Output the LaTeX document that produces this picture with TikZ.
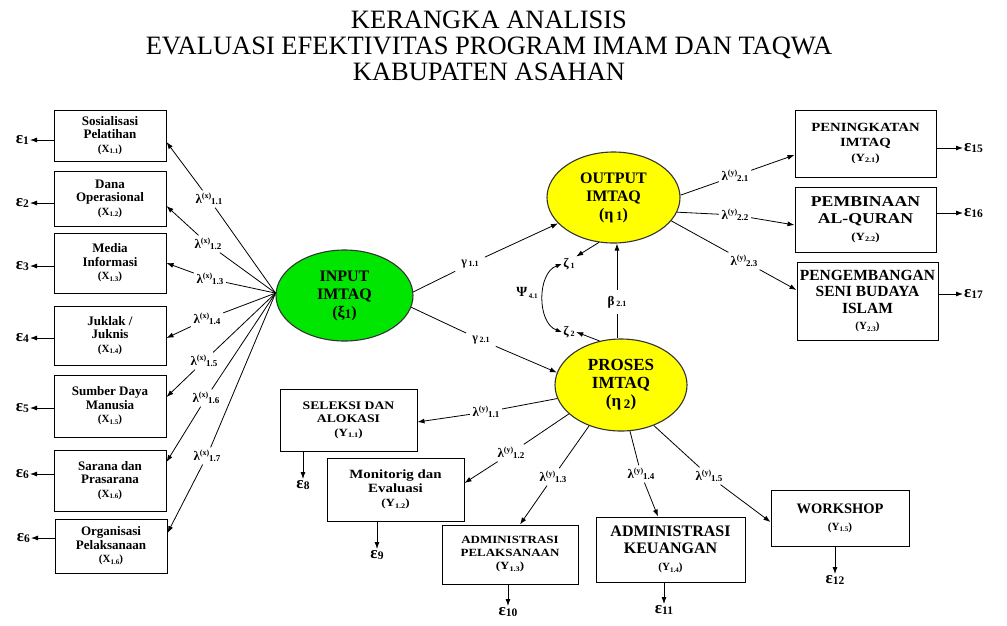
\documentclass[tikz,border=0pt]{standalone}
\usepackage{fontspec}
\setmainfont{Liberation Serif}
\newfontfamily\bxwide[FakeStretch=1.18]{Liberation Serif}
\usetikzlibrary{arrows.meta,shapes.geometric}
\definecolor{latgreen}{RGB}{0,230,0}
\definecolor{latyellow}{RGB}{255,255,0}
\newcommand\dn[1]{\raisebox{-0.3ex}{\fontsize{7}{8}\selectfont #1}}
\newcommand\dnl[1]{\raisebox{-0.35ex}{\fontsize{9}{9}\selectfont #1}}
\newcommand\upx[1]{\raisebox{1.0ex}{\fontsize{8}{8}\selectfont #1}}
\newcommand\xs[2]{{\fontsize{11}{12}\selectfont(#1\dn{#2})}}
\newcommand\lam[2]{{\fontsize{13}{13}\selectfont λ}\upx{(#1)}\dnl{#2}}
\newcommand\eps[1]{{\fontsize{17}{17}\selectfont ε}\raisebox{-0.3ex}{\fontsize{11.5}{11.5}\selectfont #1}}
\newcommand\gr[4]{{\fontsize{#1}{#1}\selectfont #2}\,\raisebox{-0.3ex}{\fontsize{#4}{#4}\selectfont #3}}
\begin{document}
\begin{tikzpicture}[x=1pt,y=-1pt,
 box/.style={draw, line width=1pt, inner sep=1pt, align=center},
 lbox/.style={box, minimum width=112pt, font=\bfseries\fontsize{13}{13.5}\selectfont},
 lat/.style={ellipse, draw=black!80, line width=1.1pt, align=center, inner sep=0pt, font=\bfseries\fontsize{16}{18}\selectfont},
 lbl/.style={inner sep=2.5pt, font=\bfseries},
 epsn/.style={inner sep=1pt, font=\bfseries},
 ln/.style={line width=0.8pt},
 arr/.style={ln, -{Latex[length=7pt,width=5pt]}}]

\useasboundingbox (0,0) rectangle (1007,625);

% title
\node[font=\fontsize{26.5}{26}\selectfont, align=center] (title) at (489,46)
  {KERANGKA ANALISIS\\EVALUASI EFEKTIVITAS PROGRAM IMAM DAN TAQWA\\KABUPATEN ASAHAN};

% latent variables
\node[lat, fill=latgreen, minimum width=137pt, minimum height=91pt] (IN) at (344.5,295.5)
  {INPUT\\IMTAQ\\(ξ\raisebox{-0.2ex}{\fontsize{13}{13}\selectfont 1})};
\node[lat, fill=latyellow, minimum width=133pt, minimum height=91pt] (OUT) at (613.5,197.5)
  {OUTPUT\\IMTAQ\\(η\,\raisebox{-0.2ex}{\fontsize{13}{13}\selectfont 1})};
\node[lat, fill=latyellow, minimum width=132pt, minimum height=92pt, font=\bfseries\fontsize{17}{18}\selectfont] (PRO) at (621,385)
  {PROSES\\IMTAQ\\(η\,\raisebox{-0.2ex}{\fontsize{13}{13}\selectfont 2})};

% left indicator boxes
\node[lbox, minimum height=51pt] (x1) at (110,135.5) {Sosialisasi\\Pelatihan\\\xs{X}{1.1}};
\node[lbox, minimum height=55pt] (x2) at (110,198.5) {Dana\\Operasional\\\xs{X}{1.2}};
\node[lbox, minimum height=60pt] (x3) at (110,263) {Media\\Informasi\\\xs{X}{1.3}};
\node[lbox, minimum height=59pt] (x4) at (110,335.5) {Juklak /\\Juknis\\\xs{X}{1.4}};
\node[lbox, minimum height=62pt] (x5) at (110,406) {Sumber Daya\\Manusia\\\xs{X}{1.5}};
\node[lbox, minimum height=61pt] (x6) at (110,480.5) {Sarana dan\\Prasarana\\\xs{X}{1.6}};
\node[lbox, minimum height=54pt] (x7) at (111,546) {Organisasi\\Pelaksanaan\\\xs{X}{1.6}};

% left errors
\node[epsn, anchor=east] (e1) at (30,140) {\eps{1}};
\node[epsn, anchor=east] (e2) at (30,203) {\eps{2}};
\node[epsn, anchor=east] (e3) at (30,266) {\eps{3}};
\node[epsn, anchor=east] (e4) at (30,338) {\eps{4}};
\node[epsn, anchor=east] (e5) at (30,408) {\eps{5}};
\node[epsn, anchor=east] (e6) at (30,474) {\eps{6}};
\node[epsn, anchor=east] (e7) at (31,538) {\eps{6}};
\foreach \b/\e in {x1/e1,x2/e2,x3/e3,x4/e4,x5/e5,x6/e6,x7/e7}
  \draw[arr] (\b.west |- \e) -- (\e.east);

% right indicator boxes
\node[box, minimum width=141pt, minimum height=67pt, font=\bxwide\bfseries\fontsize{12.5}{15}\selectfont] (r1) at (865.5,143.5)
  {PENINGKATAN\\IMTAQ\\\xs{Y}{2.1}};
\node[box, minimum width=141pt, minimum height=65pt, font=\bxwide\bfseries\fontsize{15}{17}\selectfont] (r2) at (865.5,219.5)
  {PEMBINAAN\\AL-QURAN\\\xs{Y}{2.2}};
\node[box, minimum width=141pt, minimum height=78pt, font=\bfseries\fontsize{15.5}{16.5}\selectfont] (r3) at (867.5,301)
  {PENGEMBANGAN\\SENI BUDAYA\\ISLAM\\\xs{Y}{2.3}};
\node[epsn, anchor=west] (e15) at (963,148) {\eps{15}};
\node[epsn, anchor=west] (e16) at (963,213) {\eps{16}};
\node[epsn, anchor=west] (e17) at (963,294) {\eps{17}};
\foreach \b/\e in {r1/e15,r2/e16,r3/e17}
  \draw[arr] (\b.east |- \e) -- (\e.west);

% bottom indicator boxes
\node[box, minimum width=137pt, minimum height=62pt, font=\bxwide\bfseries\fontsize{11.6}{13.5}\selectfont] (s1) at (348.5,420)
  {SELEKSI DAN\\ALOKASI\\\xs{Y}{1.1}};
\node[box, minimum width=137pt, minimum height=63pt, font=\bxwide\bfseries\fontsize{12.6}{14}\selectfont] (s2) at (395.5,489.5)
  {Monitorig dan\\Evaluasi\\\xs{Y}{1.2}};
\node[box, minimum width=136pt, minimum height=59pt, font=\bxwide\bfseries\fontsize{11}{13}\selectfont] (s3) at (510,554.5)
  {ADMINISTRASI\\PELAKSANAAN\\\xs{Y}{1.3}};
\node[box, minimum width=149pt, minimum height=65pt, font=\bfseries\fontsize{16}{17}\selectfont] (s4) at (670.5,549.5)
  {ADMINISTRASI\\KEUANGAN\\\xs{Y}{1.4}};
\node[box, minimum width=138pt, minimum height=56pt, font=\bfseries\fontsize{14.5}{17}\selectfont] (s5) at (840,518)
  {WORKSHOP\\\xs{Y}{1.5}};
\node[epsn, anchor=north] (e8) at (303,479) {\eps{8}};
\node[epsn, anchor=north] (e9) at (377,549) {\eps{9}};
\node[epsn, anchor=north] (e10) at (508,606) {\eps{10}};
\node[epsn, anchor=north] (e11) at (664,604) {\eps{11}};
\node[epsn, anchor=north] (e12) at (835,574) {\eps{12}};
\foreach \b/\e in {s1/e8,s2/e9,s3/e10,s4/e11,s5/e12}
  \draw[arr] (\b.south -| \e) -- (\e.north);

% X loadings
\coordinate (inw) at (IN.178);
\node[lbl] (l11) at (209,199) {\lam{x}{1.1}};
\node[lbl] (l12) at (208,244) {\lam{x}{1.2}};
\node[lbl] (l13) at (210,279) {\lam{x}{1.3}};
\node[lbl] (l14) at (207,319) {\lam{x}{1.4}};
\node[lbl] (l15) at (204,361) {\lam{x}{1.5}};
\node[lbl] (l16) at (206,398) {\lam{x}{1.6}};
\node[lbl] (l17) at (207,456) {\lam{x}{1.7}};
\draw[ln] (inw) -- (l11); \draw[arr] (l11) -- ([yshift=-6.5pt]x1.east);
\draw[ln] (inw) -- (l12); \draw[arr] (l12) -- ([yshift=-7.5pt]x2.east);
\draw[ln] (inw) -- (l13); \draw[arr] (l13) -- (x3.east);
\draw[ln] (inw) -- (l14); \draw[arr] (l14) -- ([yshift=-2.5pt]x4.east);
\draw[ln] (inw) -- (l15); \draw[arr] (l15) -- ([yshift=9pt]x5.east);
\draw[ln] (inw) -- (l16); \draw[arr] (l16) -- ([yshift=18.5pt]x6.east);
\draw[ln] (inw) -- (l17); \draw[arr] (l17) -- ([yshift=13pt]x7.east);

% Y2 loadings
\node[lbl] (l21) at (735,176) {\lam{y}{2.1}};
\node[lbl] (l22) at (735,215) {\lam{y}{2.2}};
\node[lbl] (l23) at (744,261) {\lam{y}{2.3}};
\draw[ln] (OUT.2) -- (l21); \draw[arr] (l21) -- ([yshift=-11.5pt]r1.west);
\draw[ln] (OUT.-13) -- (l22); \draw[arr] (l22) -- ([yshift=-5.5pt]r2.west);
\draw[ln] (OUT.-22) -- (l23); \draw[arr] (l23) -- ([yshift=11pt]r3.west);

% Y1 loadings
\node[lbl] (m11) at (486,412) {\lam{y}{1.1}};
\node[lbl] (m12) at (511,453) {\lam{y}{1.2}};
\node[lbl] (m13) at (553,477) {\lam{y}{1.3}};
\node[lbl] (m14) at (641,474) {\lam{y}{1.4}};
\node[lbl] (m15) at (709,476) {\lam{y}{1.5}};
\draw[ln] (PRO.192) -- (m11); \draw[arr] (m11) -- ([yshift=-2pt]s1.east);
\draw[ln] (PRO.209) -- (m12); \draw[arr] (m12) -- ([yshift=6.5pt]s2.east);
\draw[ln] (PRO.232) -- (m13); \draw[arr] (m13) -- ([xshift=10pt]s3.north);
\draw[ln] (PRO.281) -- (m14); \draw[arr] (m14) -- ([xshift=-12.5pt]s4.north);
\draw[ln] (PRO.309) -- (m15); \draw[arr] (m15) -- ([yshift=-4pt]s5.west);

% structural paths
\node[lbl, inner sep=6pt] (g11) at (470,264) {\gr{12}{γ}{1.1}{8}};
\node[lbl, inner sep=6pt] (g21) at (481,340) {\gr{12}{γ}{2.1}{8}};
\node[lbl, inner sep=6pt] (b21) at (617,302) {\gr{13}{β}{2.1}{8}};
\draw[ln] (IN.3) -- (g11); \draw[arr] (g11) -- (OUT.205);
\draw[ln] (IN.-10) -- (g21); \draw[arr] (g21) -- (PRO.169);
\draw[ln] (b21 |- PRO.north) -- (b21); \draw[arr] (b21) -- (b21 |- OUT.south);

% disturbances
\node[lbl, inner sep=1.5pt] (z1) at (569,264) {\gr{13}{ζ}{1}{8}};
\node[lbl, inner sep=1.5pt] (z2) at (569,332) {\gr{13}{ζ}{2}{8}};
\node[lbl] (psi) at (527,293) {\gr{14}{Ψ}{4.1}{7}};
\draw[arr] (OUT.252) -- (z1.north east);
\draw[arr] (PRO.116) -- (z2.east);
\draw[ln, {Latex[length=6pt,width=4.5pt]}-{Latex[length=6pt,width=4.5pt]}] (z1.west) to[out=200,in=160] (z2.west);
\end{tikzpicture}
\end{document}
